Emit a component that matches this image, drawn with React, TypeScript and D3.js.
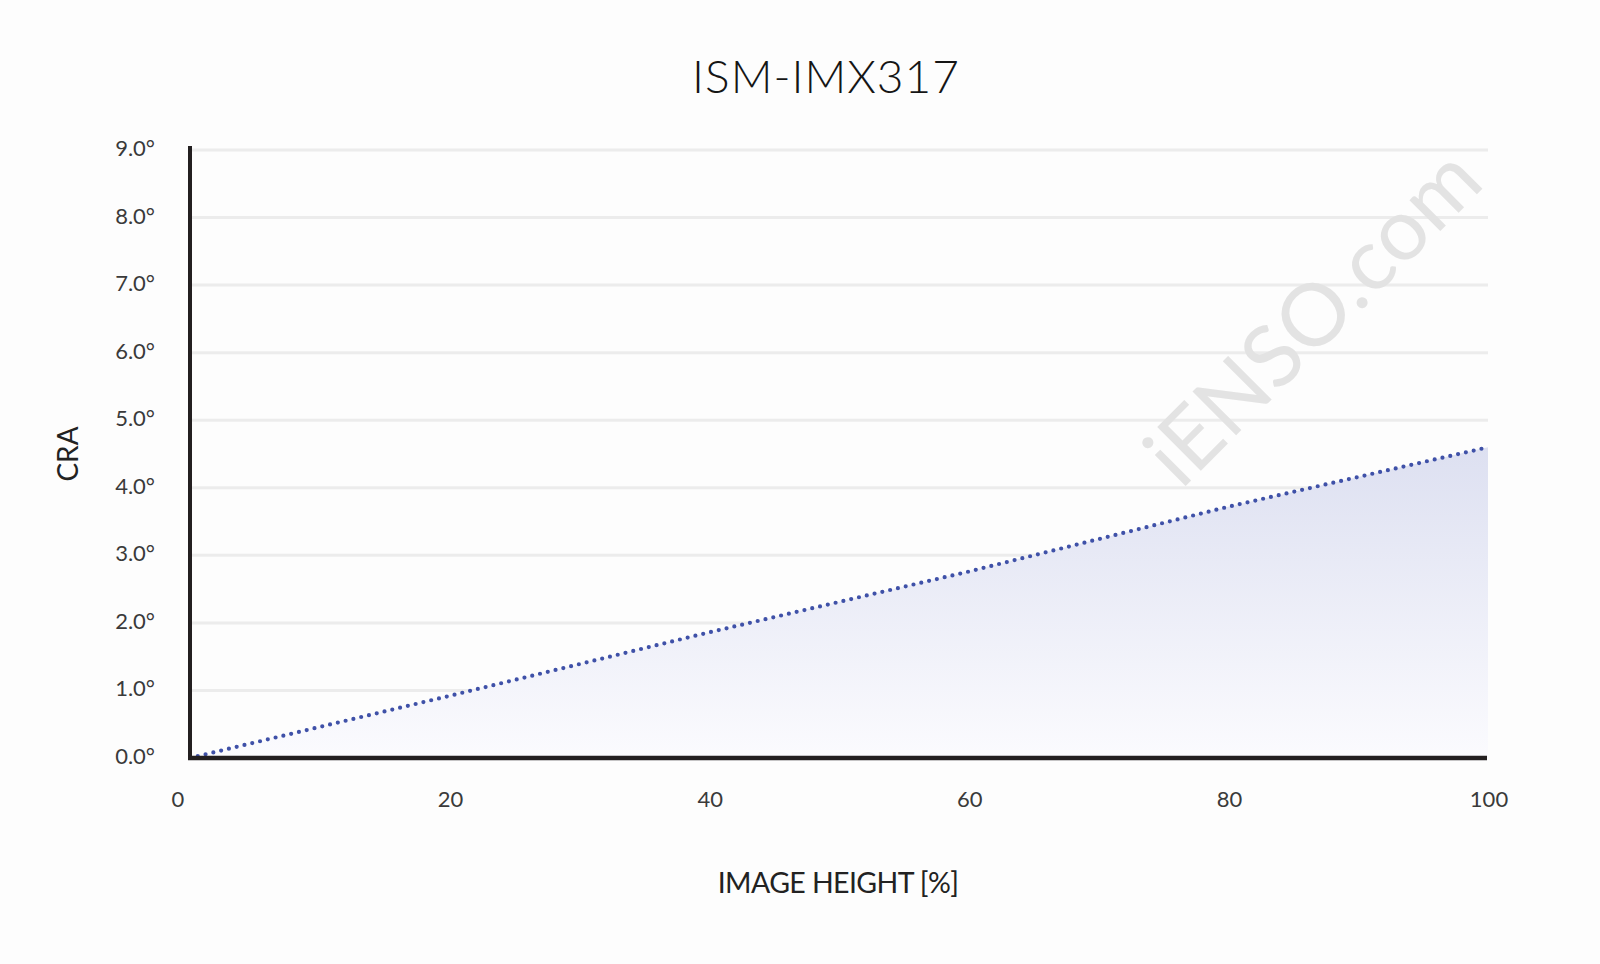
import React from "react";
import * as d3 from "d3";

const imageHeight = [0, 20, 40, 60, 80, 100];
const craValues = [0, 0.92, 1.86, 2.76, 3.72, 4.6];
const yTicks = [0, 1, 2, 3, 4, 5, 6, 7, 8, 9];
const xTicks = [0, 20, 40, 60, 80, 100];
const title = "ISM-IMX317";
const xTitle = "IMAGE HEIGHT [%]";
const yTitle = "CRA";
const watermark = "iENSO.com";

const W = 1600;
const H = 964;
const FONT = "Lato, 'Open Sans', sans-serif";

export default function App() {
  const x = d3.scaleLinear().domain([0, 100]).range([190, 1488]);
  const y = d3.scaleLinear().domain([0, 9]).range([758, 150]);
  const pts = imageHeight.map((h, i) => [h, craValues[i]] as [number, number]);
  const line = d3.line<[number, number]>().x((d) => x(d[0])).y((d) => y(d[1]));
  const area = d3
    .area<[number, number]>()
    .x((d) => x(d[0]))
    .y0(y(0))
    .y1((d) => y(d[1]));

  return (
    <svg
      width={W}
      height={H}
      style={{ position: "fixed", top: 0, left: 0, display: "block" }}
    >
      <defs>
        <linearGradient id="fillGrad" x1="0" y1="0" x2="0" y2="1">
          <stop offset="0%" stopColor="#dde0f1" />
          <stop offset="100%" stopColor="#fbfbfe" />
        </linearGradient>
      </defs>
      <rect width={W} height={H} fill="#fdfdfd" />

      {/* gridlines */}
      {yTicks.slice(1).map((t) => (
        <line
          key={t}
          x1={x(0)}
          x2={x(100)}
          y1={y(t)}
          y2={y(t)}
          stroke="#ececec"
          strokeWidth={3}
        />
      ))}

      {/* area */}
      <path d={area(pts) || ""} fill="url(#fillGrad)" />

      {/* watermark */}
      <text
        transform="translate(1310,314) rotate(-45)"
        textAnchor="middle"
        dominantBaseline="central"
        fontFamily={FONT}
        fontWeight={400}
        fontSize={86}
        fill="#e3e3e3"
        textLength={432}
        lengthAdjust="spacingAndGlyphs"
      >
        {watermark}
      </text>

      {/* line */}
      <path
        d={line(pts) || ""}
        fill="none"
        stroke="#3f51a8"
        strokeWidth={4.2}
        strokeLinecap="round"
        strokeDasharray="0 8"
      />

      {/* axes */}
      <line x1={x(0)} x2={x(0)} y1={146} y2={760} stroke="#231f20" strokeWidth={4} />
      <line x1={x(0) - 2} x2={x(100) - 1} y1={y(0)} y2={y(0)} stroke="#231f20" strokeWidth={4.5} />

      {/* y tick labels */}
      {yTicks.map((t) => (
        <text
          key={t}
          x={155}
          y={y(t) + 6}
          textAnchor="end"
          fontFamily={FONT}
          fontWeight={400}
          fontSize={22}
          fill="#3a3a3a"
        >
          {t.toFixed(1) + "°"}
        </text>
      ))}

      {/* x tick labels */}
      {xTicks.map((t) => (
        <text
          key={t}
          x={x(t) + (t === 0 ? -12 : 1)}
          y={807}
          textAnchor="middle"
          fontFamily={FONT}
          fontWeight={400}
          fontSize={22}
          fill="#3a3a3a"
        >
          {t}
        </text>
      ))}

      {/* titles */}
      <text
        x={826}
        y={93}
        textAnchor="middle"
        fontFamily={FONT}
        fontWeight={300}
        fontSize={46}
        fill="#151515"
        letterSpacing={1}
      >
        {title}
      </text>
      <text
        x={838}
        y={893}
        textAnchor="middle"
        fontFamily={FONT}
        fontWeight={400}
        fontSize={28.5}
        fill="#222222"
        letterSpacing={-0.6}
      >
        {xTitle}
      </text>
      <text
        transform="translate(78,454) rotate(-90)"
        textAnchor="middle"
        fontFamily={FONT}
        fontWeight={400}
        fontSize={28}
        fill="#222222"
      >
        {yTitle}
      </text>
    </svg>
  );
}
